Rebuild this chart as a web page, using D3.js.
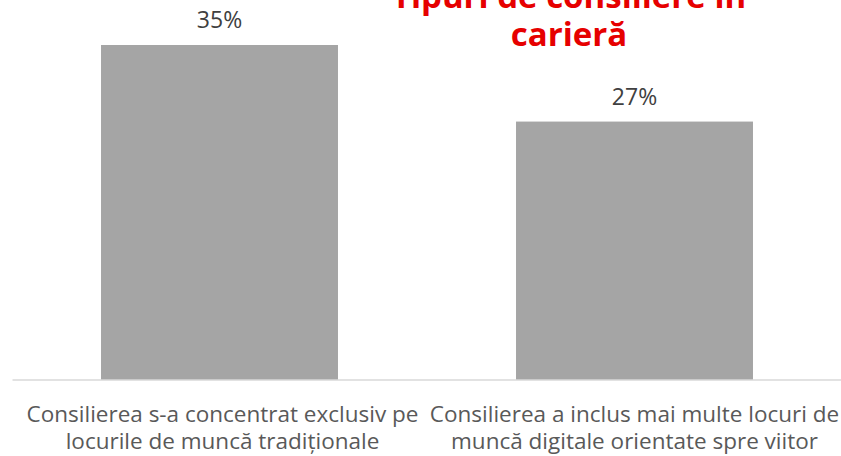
<!DOCTYPE html>
<html><head><meta charset="utf-8">
<script src="https://cdn.jsdelivr.net/npm/d3@7"></script>
<style>body{margin:0;background:#fff}svg{display:block}</style>
</head><body>
<svg id="chart" width="841" height="456"></svg>
<script>
const categories = [
  ["Consilierea s-a concentrat exclusiv pe", "locurile de muncă tradiționale"],
  ["Consilierea a inclus mai multe locuri de", "muncă digitale orientate spre viitor"]
];
const values = [35, 27];
const valueLabels = ["35%", "27%"];
const titleLines = ["Tipuri de consiliere în", "carieră"];

const W = 841, H = 456;
const margin = {left: 12, right: -1, top: 45, bottom: 76};
const svg = d3.select("#chart");
const plotBottom = 380;

const x = d3.scaleBand().domain(d3.range(values.length))
  .range([margin.left, W - margin.right]).paddingInner(0.429).paddingOuter(0.2145);
const y = d3.scaleLinear().domain([0, 35]).range([plotBottom, margin.top]);

svg.append("g").selectAll("rect").data(values).join("rect")
  .attr("x", (d,i) => x(i)).attr("width", x.bandwidth())
  .attr("y", d => y(d)).attr("height", d => y(0) - y(d))
  .attr("fill", "#a5a5a5");

const axis = svg.append("g").attr("transform", `translate(0,${plotBottom - 0.5})`)
  .call(d3.axisBottom(x).tickSize(0).tickFormat(""));
axis.select(".domain").attr("stroke", "#d9d9d9").attr("stroke-width", 1.5);

svg.append("g").selectAll("text").data(values).join("text")
  .attr("x", (d,i) => x(i) + x.bandwidth()/2)
  .attr("y", d => y(d) - 17)
  .attr("text-anchor", "middle")
  .attr("font-family", "Open Sans, sans-serif").attr("font-size", 23)
  .attr("fill", "#404040")
  .text((d,i) => valueLabels[i]);

const lab = svg.append("g").selectAll("text").data(categories).join("text")
  .attr("text-anchor", "middle")
  .attr("font-family", "Open Sans, sans-serif").attr("font-size", 22.5)
  .attr("fill", "#595959");
lab.each(function(lines, i){
  const cx = x(i) + x.bandwidth()/2 + (i === 0 ? 3 : 0);
  const t = d3.select(this);
  lines.forEach((s, j) => {
    t.append("tspan").attr("x", cx).attr("y", 422 + j*27).text(s);
  });
});

const title = svg.append("text")
  .attr("text-anchor", "middle")
  .attr("font-family", "Open Sans, sans-serif").attr("font-weight", 700)
  .attr("font-size", 33).attr("fill", "#e60000");
titleLines.forEach((t, j) => {
  title.append("tspan").attr("x", 569).attr("y", 8 + j*38).text(t);
});
</script>
</body></html>
